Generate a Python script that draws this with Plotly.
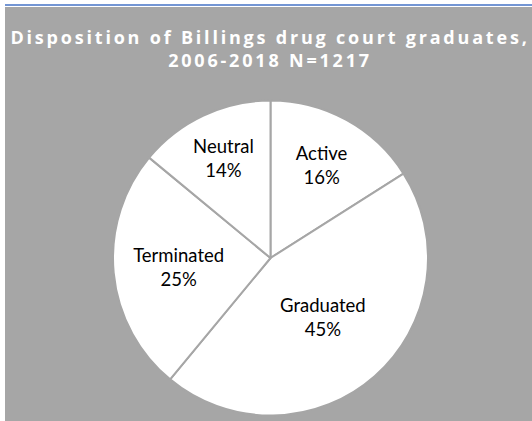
import plotly.graph_objects as go

categories = ["Active", "Graduated", "Terminated", "Neutral"]
percentages = [16, 45, 25, 14]
title_lines = ["Disposition of Billings drug court graduates,", "2006-2018 N=1217"]

W, H = 532, 421
GX, GY = 5, 7  # left / top edge of the grey chart area (px)
BG = "#a6a6a6"

fig = go.Figure(
    go.Pie(
        labels=categories,
        values=percentages,
        sort=False,
        direction="clockwise",
        rotation=0,
        marker=dict(colors=["white"] * 4, line=dict(color=BG, width=2)),
        texttemplate="%{label}<br>%{percent:.0%}",
        textposition="inside",
        insidetextorientation="horizontal",
        textfont=dict(family="Lato", size=18.5, color="black"),
        hoverinfo="label+percent",
        showlegend=False,
        domain=dict(x=[113 / W, 428 / W],
                    y=[(H - 415.5) / H, (H - 100.5) / H]),
    )
)

fig.update_layout(
    width=W,
    height=H,
    margin=dict(l=0, r=0, t=0, b=0, pad=0),
    paper_bgcolor="white",
    title=dict(
        text="<br>".join(title_lines),
        font=dict(family="Open Sans", size=18, color="white", weight="bold"),
        x=270 / W,
        xanchor="center",
        xref="paper",
        y=1 - 44 / H,
        yref="container",
        yanchor="top",
    ),
    shapes=[
        dict(type="rect", xref="paper", yref="paper", x0=GX / W, x1=1, y0=0, y1=1 - GY / H,
             fillcolor=BG, line=dict(width=0), layer="below"),
        dict(type="line", xref="paper", yref="paper", x0=GX / W, x1=1,
             y0=1 - 5 / H, y1=1 - 5 / H,
             line=dict(color="#4472c4", width=1.5)),
    ],
)

post = """
document.documentElement.style.margin = '0';
document.documentElement.style.overflow = 'hidden';
document.body.style.margin = '0';
document.body.style.overflow = 'hidden';
document.querySelectorAll('.gtitle').forEach(function (t) { t.style.letterSpacing = '2.8px'; });
window.scrollTo(0, 0);
"""

fig.write_html("out.html", post_script=post, config={"displayModeBar": False})
